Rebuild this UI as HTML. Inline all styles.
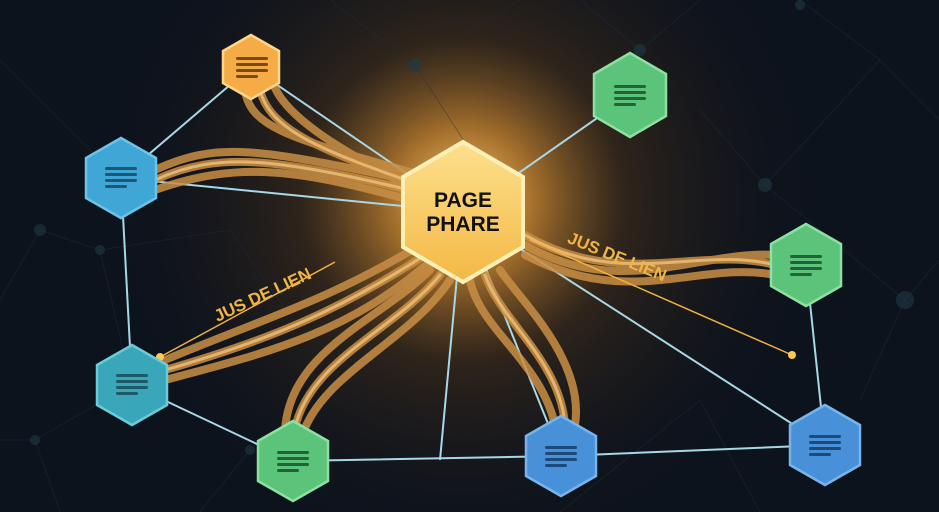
<!DOCTYPE html>
<html><head><meta charset="utf-8"><style>
html,body{margin:0;padding:0;background:#0c1119;}
svg{display:block}
text{font-family:"Liberation Sans",sans-serif;}
</style></head><body>
<svg width="939" height="512" viewBox="0 0 939 512" xmlns="http://www.w3.org/2000/svg">
<defs>
<radialGradient id="glow" cx="463" cy="200" r="360" gradientUnits="userSpaceOnUse">
<stop offset="0" stop-color="#ffd27a" stop-opacity="1"/>
<stop offset="0.2" stop-color="#c8852f" stop-opacity="0.8"/>
<stop offset="0.45" stop-color="#4a3219" stop-opacity="0.55"/>
<stop offset="1" stop-color="#0c1119" stop-opacity="0"/>
</radialGradient>
<linearGradient id="hexc" x1="0" y1="0" x2="0" y2="1">
<stop offset="0" stop-color="#fde08e"/><stop offset="1" stop-color="#f4b845"/>
</linearGradient>
<g id="lines"><rect x="-16" y="-9" width="32" height="3" rx="1.5"/><rect x="-16" y="-3" width="32" height="3" rx="1.5"/><rect x="-16" y="3" width="32" height="3" rx="1.5"/><rect x="-16" y="9" width="22" height="3" rx="1.5"/></g>
</defs>
<rect width="939" height="512" fill="#0d131d"/>
<rect width="939" height="512" fill="url(#glow)"/>
<g stroke="#22303d" stroke-width="1" opacity="0.4" fill="none">
<path d="M0 60 L120 180 M40 230 L0 300 M40 230 L100 250 L130 380 M100 250 L230 230 M230 230 L300 330 M0 440 L35 440 L130 385 M35 440 L60 512 M250 450 L200 512 M415 65 L330 0 M415 65 L520 0 M415 65 L470 150 M640 50 L700 0 M640 50 L580 0 M765 185 L700 110 M765 185 L905 300 M765 185 L880 60 M905 300 L939 260 M905 300 L860 400 M800 0 L880 60 L939 120 M700 400 L760 512 M700 400 L560 512"/>
</g>
<g fill="#1e3a44" opacity="0.6">
<circle cx="40" cy="230" r="6"/><circle cx="100" cy="250" r="5"/><circle cx="415" cy="65" r="7"/><circle cx="640" cy="50" r="6"/><circle cx="765" cy="185" r="7"/><circle cx="905" cy="300" r="9"/><circle cx="35" cy="440" r="5"/><circle cx="250" cy="450" r="5"/><circle cx="800" cy="5" r="5"/>
</g>
<g stroke="#a8d7e6" stroke-width="2" fill="none">
<path d="M251 67 L121 178 M251 67 L463 212 M121 178 L463 212 M463 212 L630 95 M121 178 L132 385 M132 385 L293 461 M293 461 L561 456 M463 212 L440 460 M463 212 L561 456 M463 212 L825 445 M806 265 L825 445 M561 456 L825 445"/>
</g>
<g fill="none" stroke-linecap="round">
<g stroke="#c98f45" stroke-width="8" opacity="0.85">
<path d="M245 90 C250 130 300 140 420 175"/><path d="M260 90 C270 130 320 150 420 185"/><path d="M275 88 C290 120 340 150 425 195"/>
<path d="M155 170 C220 140 260 150 410 180"/><path d="M155 180 C220 150 280 160 410 190"/><path d="M155 190 C240 160 300 170 410 200"/>
<path d="M165 360 C260 320 330 300 420 245"/><path d="M165 370 C270 340 340 310 425 255"/><path d="M165 380 C280 350 350 330 430 262"/>
<path d="M285 430 C290 350 380 320 430 270"/><path d="M295 428 C310 360 395 330 440 275"/><path d="M305 428 C330 370 410 340 450 280"/>
<path d="M555 425 C540 360 480 330 470 280"/><path d="M565 425 C560 360 500 320 485 275"/><path d="M575 425 C585 360 520 300 500 270"/>
<path d="M525 245 C620 300 700 250 775 255"/><path d="M525 235 C620 290 700 245 775 265"/><path d="M525 255 C630 310 700 260 775 275"/>
</g>
<g stroke="#f1c27a" stroke-width="3" opacity="0.8">
<path d="M260 90 C270 130 320 150 420 185"/><path d="M155 180 C220 150 280 160 410 190"/><path d="M165 370 C270 340 340 310 425 255"/><path d="M295 428 C310 360 395 330 440 275"/><path d="M565 425 C560 360 500 320 485 275"/><path d="M525 235 C620 290 700 245 775 265"/>
</g>
</g>
<g stroke="#f2b23f" stroke-width="1.5">
<line x1="160" y1="357" x2="335" y2="262"/><line x1="530" y1="240" x2="792" y2="355"/>
</g>
<circle cx="792" cy="355" r="4" fill="#ffc850"/><circle cx="160" cy="357" r="4" fill="#ffc850"/>
<text x="265" y="300" fill="#f0b544" font-size="17" font-weight="bold" transform="rotate(-25 265 300)" text-anchor="middle">JUS DE LIEN</text>
<text x="615" y="262" fill="#f0b544" font-size="17" font-weight="bold" transform="rotate(22 615 262)" text-anchor="middle">JUS DE LIEN</text>
<g stroke-width="2.5">
<polygon points="463,142 523,177 523,247 463,282 403,247 403,177" fill="url(#hexc)" stroke="#fff0b8" stroke-width="4"/>
<polygon points="251,35 279,51 279,83 251,99 223,83 223,51" fill="#f5ac47" stroke="#ffd58a"/>
<polygon points="121,138 156,158 156,198 121,218 86,198 86,158" fill="#3fa6d5" stroke="#6cc3e8"/>
<polygon points="630,53 666,74 666,116 630,137 594,116 594,74" fill="#5cc37b" stroke="#8de0a2"/>
<polygon points="806,224 841,244 841,286 806,306 771,286 771,244" fill="#5cc37b" stroke="#8de0a2"/>
<polygon points="132,345 167,365 167,405 132,425 97,405 97,365" fill="#3aa6ba" stroke="#6ccbd8"/>
<polygon points="293,421 328,441 328,481 293,501 258,481 258,441" fill="#5cc37b" stroke="#8de0a2"/>
<polygon points="561,416 596,436 596,476 561,496 526,476 526,436" fill="#4890d8" stroke="#78b4ec"/>
<polygon points="825,405 860,425 860,465 825,485 790,465 790,425" fill="#4890d8" stroke="#78b4ec"/>
</g>
<g>
<use href="#lines" x="252" y="66" fill="#7a4a15"/>
<use href="#lines" x="121" y="176" fill="#1c5873"/>
<use href="#lines" x="630" y="94" fill="#23633a"/>
<use href="#lines" x="806" y="264" fill="#23633a"/>
<use href="#lines" x="132" y="383" fill="#1b5a66"/>
<use href="#lines" x="293" y="460" fill="#23633a"/>
<use href="#lines" x="561" y="455" fill="#1c4a7a"/>
<use href="#lines" x="825" y="444" fill="#1c4a7a"/>
</g>
<text x="463" y="207" font-size="21" font-weight="bold" fill="#111" text-anchor="middle">PAGE</text>
<text x="463" y="231" font-size="21" font-weight="bold" fill="#111" text-anchor="middle">PHARE</text>
</svg>
</body></html>
